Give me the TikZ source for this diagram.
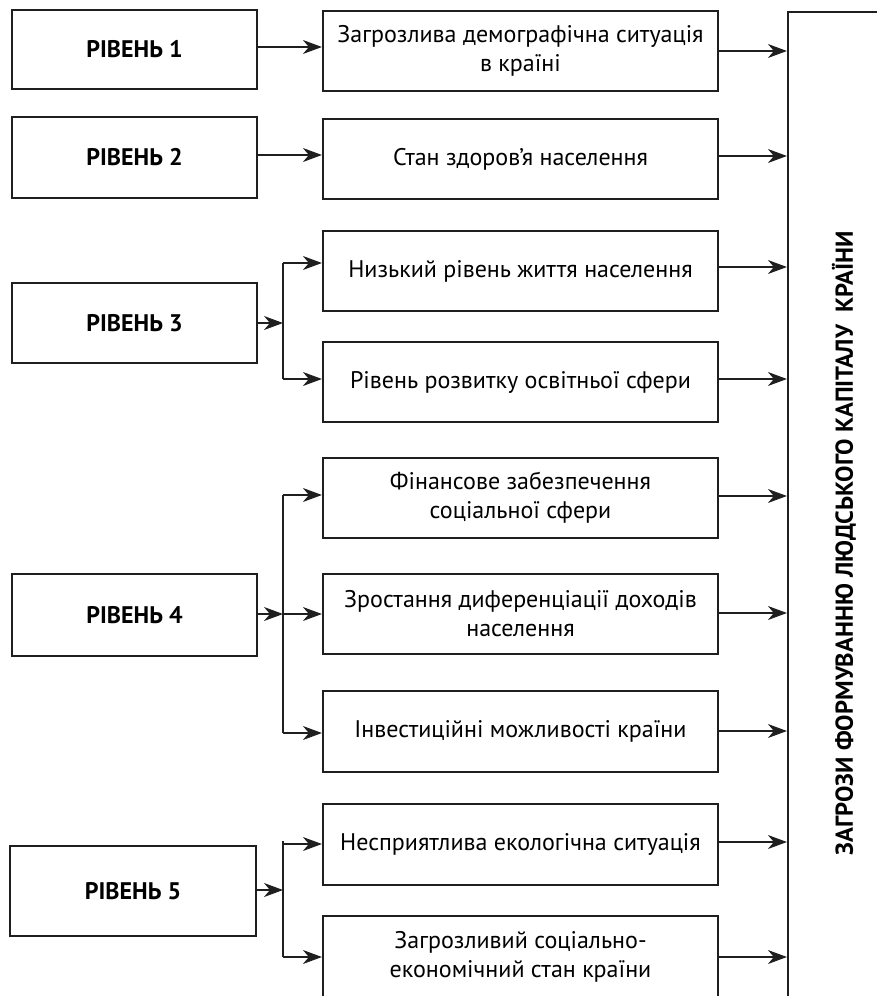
\documentclass[tikz,border=0pt]{standalone}
\usepackage{fontspec}
\usepackage{graphicx}
\setmainfont{PT Sans}
\usetikzlibrary{arrows.meta}
\begin{document}
\begin{tikzpicture}[x=1pt,y=-1pt,
  box/.style={draw=black!88, line width=2.2pt, inner sep=0pt, align=center,
    font=\fontsize{24}{29}\selectfont},
  lbox/.style={box, minimum width=245pt, font=\fontsize{24}{29}\selectfont\bfseries},
  mbox/.style={box, minimum width=395pt, minimum height=80pt},
  arr/.style={line width=1.1pt, draw=black!88, -{Stealth[length=19pt,width=14pt,inset=6pt]}},
  ln/.style={line width=1.1pt, draw=black!88}]
\clip (0,0) rectangle (877,996);
% level boxes
\node[lbox, minimum height=79pt] (L1) at (134.5,49.5) {РІВЕНЬ 1};
\node[lbox, minimum height=81pt] (L2) at (134.5,157.5) {РІВЕНЬ 2};
\node[lbox, minimum height=80pt] (L3) at (134.5,323) {РІВЕНЬ 3};
\node[lbox, minimum height=82pt] (L4) at (134.5,615) {РІВЕНЬ 4};
\node[lbox, minimum height=90pt, minimum width=246pt] (L5) at (133,891) {РІВЕНЬ 5};
% middle boxes
\node[mbox] (M1) at (520.5,51) {Загрозлива демографічна ситуація\\в країні};
\node[mbox] (M2) at (520.5,159) {Стан здоров’я населення};
\node[mbox] (M3) at (520.5,271) {Низький рівень життя населення};
\node[mbox] (M4) at (520.5,382) {Рівень розвитку освітньої сфери};
\node[mbox] (M5) at (520.5,498) {Фінансове забезпечення\\соціальної сфери};
\node[mbox] (M6) at (520.5,614) {Зростання диференціації доходів\\населення};
\node[mbox, minimum height=81pt] (M7) at (520.5,731.5) {Інвестиційні можливості країни};
\node[mbox, minimum height=81pt] (M8) at (520.5,844.5) {Несприятлива екологічна ситуація};
\node[mbox, minimum height=81pt] (M9) at (520.5,956.5) {Загрозливий соціально-\\економічний стан країни};
% target box
\node[box, minimum width=112pt, minimum height=1062pt, font=\fontsize{24.5}{29}\selectfont\bfseries]
  (T) at (844,543) {\rotatebox{90}{ЗАГРОЗИ ФОРМУВАННЮ ЛЮДСЬКОГО КАПІТАЛУ\ \ КРАЇНИ}};
% junctions
\coordinate (J3) at (283,323);
\coordinate (J4) at (283,614);
\coordinate (J5) at (283,890);
% level 1, 2
\draw[arr] (L1.east |- 0,47) -- (M1.west |- 0,47);
\draw[arr] (L2.east |- 0,155) -- (M2.west |- 0,155);
% level 3
\draw[arr] (L3.east) -- (J3);
\draw[ln] (J3 |- 0,263) -- (J3 |- 0,379);
\draw[arr] (J3 |- 0,263) -- (M3.west |- 0,263);
\draw[arr] (J3 |- 0,379) -- (M4.west |- 0,379);
% level 4
\draw[arr] (L4.east |- J4) -- (J4);
\draw[ln] (J4 |- 0,495) -- (J4 |- 0,733);
\draw[arr] (J4 |- 0,495) -- (M5.west |- 0,495);
\draw[arr] (J4) -- (M6.west |- J4);
\draw[arr] (J4 |- 0,733) -- (M7.west |- 0,733);
% level 5
\draw[arr] (L5.east |- J5) -- (J5);
\draw[ln] (J5 |- 0,841) -- (J5 |- 0,957);
\draw[arr] (J5 |- 0,844) -- (M8.west |- 0,844);
\draw[arr] (J5 |- 0,957) -- (M9.west |- 0,957);
% to target
\draw[arr] (M1.east |- 0,51) -- (T.west |- 0,51);
\draw[arr] (M2.east |- 0,156) -- (T.west |- 0,156);
\draw[arr] (M3.east |- 0,267) -- (T.west |- 0,267);
\draw[arr] (M4.east |- 0,379) -- (T.west |- 0,379);
\draw[arr] (M5.east |- 0,496) -- (T.west |- 0,496);
\draw[arr] (M6.east |- 0,613) -- (T.west |- 0,613);
\draw[arr] (M7.east |- 0,731) -- (T.west |- 0,731);
\draw[arr] (M8.east |- 0,842) -- (T.west |- 0,842);
\draw[arr] (M9.east |- 0,957) -- (T.west |- 0,957);
\end{tikzpicture}
\end{document}
